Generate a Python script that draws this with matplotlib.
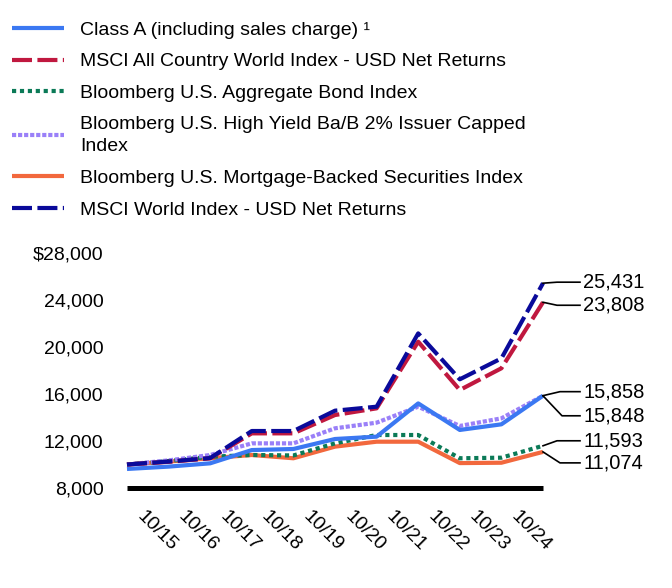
import matplotlib
matplotlib.use("Agg")
import matplotlib.pyplot as plt
from matplotlib.lines import Line2D

plt.rcParams['font.family'] = ['Liberation Sans', 'DejaVu Sans']

# data (growth of $10,000)
years = ['10/14', '10/15', '10/16', '10/17', '10/18', '10/19', '10/20', '10/21', '10/22', '10/23', '10/24']
tick_labels = years[1:]

class_a = [9620, 9820, 10100, 11230, 11320, 12170, 12370, 15200, 12940, 13420, 15858]
msci_acwi = [10000, 10230, 10530, 12650, 12650, 14210, 14780, 20450, 16340, 18190, 23808]
agg_bond = [10000, 10300, 10660, 10810, 10770, 11800, 12510, 12510, 10530, 10580, 11593]
high_yield = [10000, 10350, 10810, 11800, 11800, 13080, 13560, 14920, 13280, 13930, 15848]
mbs = [10000, 10250, 10530, 10810, 10530, 11520, 11940, 11940, 10120, 10150, 11074]
msci_world = [10000, 10250, 10550, 12850, 12850, 14580, 14920, 21160, 17250, 19030, 25431]

names = ['Class A (including sales charge) \u00b9',
         'MSCI All Country World Index - USD Net Returns',
         'Bloomberg U.S. Aggregate Bond Index',
         'Bloomberg U.S. High Yield Ba/B 2% Issuer Capped\nIndex',
         'Bloomberg U.S. Mortgage-Backed Securities Index',
         'MSCI World Index - USD Net Returns']
end_labels = ['15,858', '23,808', '11,593', '15,848', '11,074', '25,431']

series = [class_a, msci_acwi, agg_bond, high_yield, mbs, msci_world]
colors = ['#3b78f2', '#c0183f', '#0b7a57', '#9a80f8', '#f2683d', '#0a0a9a']
dashes = [None, (4.8, 1.3), (1, 0.9), (1, 0.45), None, (4.8, 1.3)]

# draw order: indices, bottom to top
order = [4, 2, 3, 0, 1, 5]

# leader lines: (elbow dx, elbow dy, label dy) in pixels, y downward
leaders = [(17, -4, -4), (14, 3, 3), (14, -5, -5), (19, 20, 20), (17, 11, 11), (14, -1, -1)]

W, H = 672, 588
fig = plt.figure(figsize=(W / 100, H / 100), dpi=100)
x0, x1 = 127, 543
y_top, y_bot = 253, 488
ax = fig.add_axes([x0 / W, 1 - y_bot / H, (x1 - x0) / W, (y_bot - y_top) / H])

xs = list(range(len(years)))
handles = []
for i in order:
    ln, = ax.plot(xs, series[i], color=colors[i], lw=3, clip_on=False,
                  solid_capstyle='butt', dash_capstyle='butt')
    if dashes[i] is not None:
        ln.set_dashes(dashes[i])
for i in range(len(series)):
    h = Line2D([], [], color=colors[i], lw=3, solid_capstyle='butt', dash_capstyle='butt')
    if dashes[i] is not None:
        h.set_dashes(dashes[i])
    handles.append(h)

ax.set_xlim(0, 10)
ax.set_ylim(8000, 28000)
ax.set_yticks([8000, 12000, 16000, 20000, 24000, 28000])
ax.set_yticklabels(['8,000', '12,000', '16,000', '20,000', '24,000', '$28,000'])
ax.set_xticks([i - 0.29 for i in range(1, 11)])
ax.set_xticklabels(tick_labels, rotation=-45, ha='center')
ax.tick_params(length=0, labelsize=14, colors='black')
ax.tick_params(axis='y', pad=17)
ax.tick_params(axis='x', pad=14)
for s in ['top', 'right', 'left']:
    ax.spines[s].set_visible(False)
ax.spines['bottom'].set_linewidth(3.6)
ax.spines['bottom'].set_capstyle('butt')

# end value labels with leader lines
fig.canvas.draw()
inv = ax.transData.inverted()
for i in range(len(series)):
    px, py = ax.transData.transform((10, series[i][-1]))
    ex, ey, ly = leaders[i]
    pts = [(px, py), (px + ex, py - ey), (px + 37, py - ly)]
    dpts = inv.transform(pts)
    ax.plot(dpts[:, 0], dpts[:, 1], color='black', lw=1.2, clip_on=False)
    tx, ty = inv.transform((px + 40, py - ly))
    ax.text(tx, ty, end_labels[i], fontsize=14.5, va='center', ha='left')

leg = fig.legend(handles, names, loc='upper left', bbox_to_anchor=(12 / W, 1 - 21 / H),
                 frameon=False, fontsize=14, handlelength=2.65, handletextpad=0.87,
                 labelspacing=0.73, borderpad=0, borderaxespad=0)
for t in leg.get_texts():
    t.set_linespacing(1.35)

fig.savefig('out.png', dpi=100)
